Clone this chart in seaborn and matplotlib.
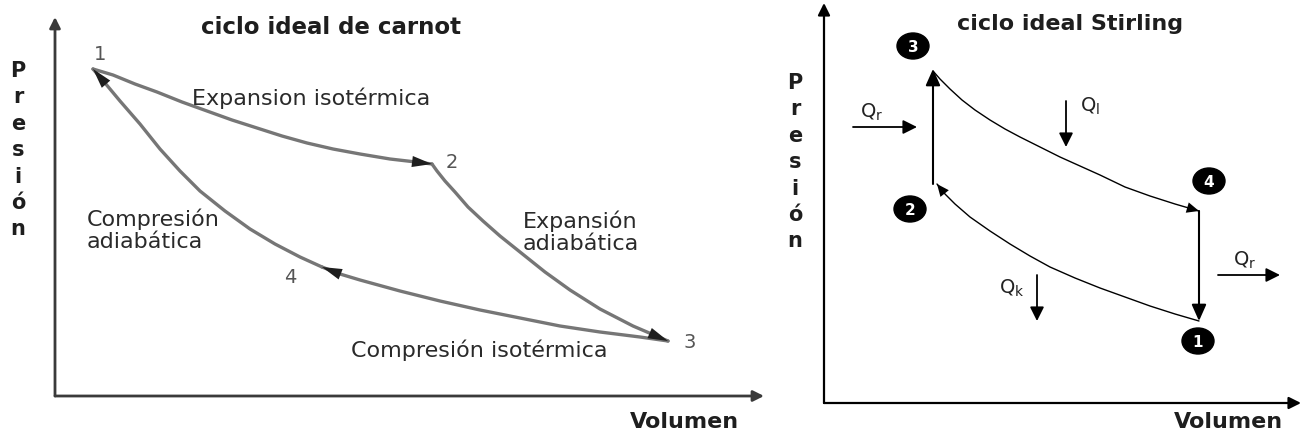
import matplotlib
matplotlib.use("Agg")
import matplotlib.pyplot as plt
from matplotlib.patches import Ellipse
import seaborn as sns
import pandas as pd

# canvas is laid out in picture pixels (x right, y down)
W, H = 1304, 435

# ---- Carnot cycle (left) ----
carnot_12_x = [93, 113, 135, 157, 182, 207, 232, 257, 282, 307, 333, 360, 390, 416, 432]
carnot_12_y = [70, 76, 85, 93, 103, 112, 121, 129, 137, 144, 150, 155, 160, 163, 165]
carnot_23_x = [432, 437, 445, 455, 468, 483, 500, 520, 545, 570, 600, 633, 668]
carnot_23_y = [165, 172, 182, 193, 208, 222, 237, 253, 273, 291, 310, 327, 342]
carnot_34_x = [668, 640, 600, 560, 520, 480, 440, 400, 360, 340, 322]
carnot_34_y = [342, 338, 333, 327, 319, 311, 302, 292, 281, 275, 268]
carnot_41_x = [322, 300, 275, 250, 225, 200, 180, 160, 140, 120, 105, 93]
carnot_41_y = [268, 258, 245, 230, 212, 192, 172, 150, 125, 102, 84, 70]
carnot_pts = ["1", "2", "3", "4"]
carnot_pt_x = [100, 452, 690, 290]
carnot_pt_y = [55, 163, 343, 278]
carnot_labels = ["Expansion isotérmica", "Expansión\nadiabática",
                 "Compresión isotérmica", "Compresión\nadiabática"]
carnot_label_x = [192, 523, 351, 87]
carnot_label_y = [98, 232, 350, 230]

# ---- Stirling cycle (right) ----
st_34_x = [933, 940, 950, 962, 975, 990, 1005, 1020, 1040, 1060, 1080, 1100, 1125, 1150, 1175, 1199]
st_34_y = [72, 80, 90, 101, 111, 121, 130, 138, 148, 158, 167, 176, 188, 197, 205, 212]
st_12_x = [1199, 1175, 1150, 1125, 1100, 1075, 1050, 1030, 1010, 990, 970, 955, 945, 937]
st_12_y = [322, 315, 307, 298, 289, 279, 268, 257, 245, 232, 218, 205, 195, 185]
st_23_x = [933, 933]
st_23_y = [185, 70]
st_41_x = [1199, 1199]
st_41_y = [212, 322]
st_pts = ["1", "2", "3", "4"]
st_pt_x = [1198, 910, 913, 1209]
st_pt_y = [342, 210, 47, 182]
# heat arrows: start -> end, plus text position
q_text = ["Q$_\\mathregular{r}$", "Q$_\\mathregular{l}$", "Q$_\\mathregular{k}$", "Q$_\\mathregular{r}$"]
q_x0 = [853, 1066, 1037, 1218]
q_y0 = [128, 102, 276, 276]
q_x1 = [917, 1066, 1037, 1280]
q_y1 = [128, 148, 322, 276]
q_tx = [872, 1090, 1012, 1245]
q_ty = [112, 106, 288, 260]

sns.set_theme(style="white")
plt.rcParams["font.family"] = ["DejaVu Sans"]

fig = plt.figure(figsize=(W / 100, H / 100), dpi=100)
ax = fig.add_axes([0, 0, 1, 1])
ax.set_xlim(0, W)
ax.set_ylim(H, 0)
ax.axis("off")


def arrow(x0, y0, x1, y1, color, lw, ms, style="-|>"):
    ax.annotate("", xy=(x1, y1), xytext=(x0, y0),
                arrowprops=dict(arrowstyle=style, color=color, lw=lw,
                                mutation_scale=ms, shrinkA=0, shrinkB=0))


# axes of the two diagrams
arrow(55, 397, 55, 18, "#3a3a3a", 2.0, 16)
arrow(55, 397, 764, 397, "#3a3a3a", 2.0, 16)
arrow(824, 404, 824, 4, "black", 1.6, 18)
arrow(824, 404, 1301, 404, "black", 1.6, 18)

# Carnot curves
gray = "#767676"
for xs, ys in [(carnot_12_x, carnot_12_y), (carnot_23_x, carnot_23_y),
               (carnot_34_x, carnot_34_y), (carnot_41_x, carnot_41_y)]:
    df = pd.DataFrame({"v": xs, "p": ys})
    sns.lineplot(data=df, x="v", y="p", sort=False, estimator=None,
                 color=gray, lw=2.4, ax=ax)
    arrow(xs[-2], ys[-2], xs[-1], ys[-1], "#1e1e1e", 0, 16,
          style="-|>,head_length=0.9,head_width=0.25")

for t, x, y in zip(carnot_pts, carnot_pt_x, carnot_pt_y):
    ax.text(x, y, t, fontsize=14, color="#555555", ha="center", va="center")
for t, x, y in zip(carnot_labels, carnot_label_x, carnot_label_y):
    ax.text(x, y, t, fontsize=16, color="#2a2a2a", ha="left", va="center",
            linespacing=1.15)

# Stirling curves
for xs, ys in [(st_34_x, st_34_y), (st_12_x, st_12_y)]:
    df = pd.DataFrame({"v": xs, "p": ys})
    sns.lineplot(data=df, x="v", y="p", sort=False, estimator=None,
                 color="black", lw=1.0, ax=ax)
    arrow(xs[-2], ys[-2], xs[-1], ys[-1], "black", 0, 11,
          style="-|>,head_length=0.8,head_width=0.35")
for xs, ys in [(st_23_x, st_23_y), (st_41_x, st_41_y)]:
    arrow(xs[0], ys[0], xs[1], ys[1], "black", 1.5, 11,
          style="-|>,head_length=0.9,head_width=0.4")

for t, x, y in zip(st_pts, st_pt_x, st_pt_y):
    ax.add_patch(Ellipse((x, y), 32, 26, color="black"))
    ax.text(x, y + 1, t, fontsize=11, color="white", fontweight="bold",
            ha="center", va="center")

for t, x0, y0, x1, y1, tx, ty in zip(q_text, q_x0, q_y0, q_x1, q_y1, q_tx, q_ty):
    arrow(x0, y0, x1, y1, "black", 1.3, 12,
          style="-|>,head_length=0.7,head_width=0.35")
    ax.text(tx, ty, t, fontsize=14, color="#222222", ha="center", va="center")

# titles and axis names
ax.text(331, 28, "ciclo ideal de carnot", fontsize=16.5, fontweight="bold",
        color="#1e1e1e", ha="center", va="center")
ax.text(1070, 24, "ciclo ideal Stirling", fontsize=16, fontweight="bold",
        color="#1e1e1e", ha="center", va="center")
for x, y0 in [(18, 73), (795, 85)]:
    ax.text(x, y0 - 12, "\n".join("Presión"), fontsize=15, fontweight="bold",
            color="#1e1e1e", ha="center", va="top", linespacing=1.4)
ax.text(684, 422, "Volumen", fontsize=16, fontweight="bold", color="#1e1e1e",
        ha="center", va="center")
ax.text(1228, 422, "Volumen", fontsize=16, fontweight="bold", color="#1e1e1e",
        ha="center", va="center")

fig.savefig("out.png", dpi=100, facecolor="white")
